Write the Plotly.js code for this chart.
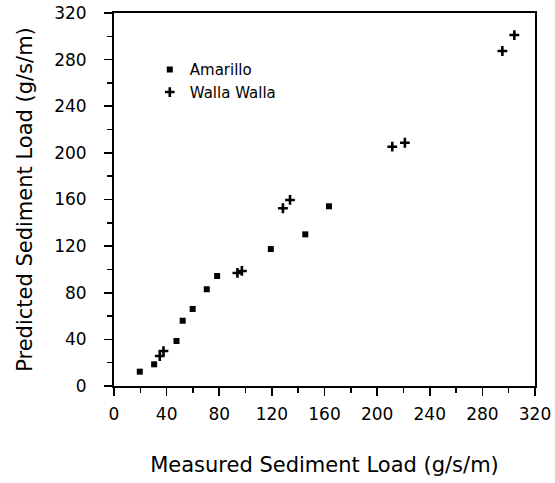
<!DOCTYPE html>
<html><head><meta charset="utf-8">
<script src="https://cdn.plot.ly/plotly-3.0.1.min.js"></script>
<style>html,body{margin:0;padding:0;background:#fff}</style>
</head><body>
<div id="chart" style="width:555px;height:483px"></div>
<script>
const amarilloMeasured = [19.6, 30.5, 47.5, 52.2, 59.8, 70.5, 78.4, 119.2, 145.4, 163.4];
const amarilloPredicted = [12.3, 18.6, 38.6, 56.0, 66.1, 83.0, 94.4, 117.5, 130.1, 154.2];
const wallaMeasured = [34.8, 37.6, 93.8, 97.2, 128.4, 133.8, 211.5, 221.1, 295.2, 304.3];
const wallaPredicted = [25.7, 30.0, 97.0, 98.7, 152.5, 159.6, 205.3, 208.7, 287.4, 301.1];
const tickVals = [0, 40, 80, 120, 160, 200, 240, 280, 320];
const tickText = ["0", "40", "80", "120", "160", "200", "240", "280", "320"];

const FONT = "DejaVu Sans, sans-serif";
const traces = [
  {x: amarilloMeasured, y: amarilloPredicted, name: "Amarillo", type: "scatter", mode: "markers",
   marker: {symbol: "square", size: 6, color: "#000"}},
  {x: wallaMeasured, y: wallaPredicted, name: "Walla Walla", type: "scatter", mode: "markers",
   marker: {symbol: "cross-thin", size: 7, color: "#000", line: {color: "#000", width: 2.6}}}
];
const axisCommon = {
  range: [0, 320], tickvals: tickVals, ticktext: tickText,
  ticks: "outside", ticklen: 8, tickwidth: 1.6, tickcolor: "#000",
  showline: true, linecolor: "#000", linewidth: 2, mirror: true,
  showgrid: false, zeroline: false,
  tickfont: {family: FONT, size: 17, color: "#000"},
  minor: {tickvals: [20, 60, 100, 140, 180, 220, 260, 300], ticks: "outside", ticklen: 5, tickwidth: 1.4, tickcolor: "#000", showgrid: false}
};
const layout = {
  width: 555, height: 483,
  margin: {l: 113.5, r: 20, t: 13, b: 97},
  paper_bgcolor: "#fff", plot_bgcolor: "#fff",
  font: {family: FONT, color: "#000"},
  xaxis: Object.assign({}, axisCommon, {
    ticklabelstandoff: 4,
    title: {text: "Measured Sediment Load (g/s/m)", font: {family: FONT, size: 21, color: "#000"}, standoff: 34}
  }),
  yaxis: Object.assign({}, axisCommon, {
    ticklabelstandoff: 14,
    title: {text: "Predicted Sediment Load (g/s/m)", font: {family: FONT, size: 21, color: "#000"}, standoff: 16}
  }),
  showlegend: true,
  legend: {x: 0.085, y: 0.892, xanchor: "left", yanchor: "top", bgcolor: "rgba(0,0,0,0)",
           font: {family: FONT, size: 15, color: "#000"}, itemwidth: 30, tracegroupgap: 0}
};
Plotly.newPlot("chart", traces, layout, {displayModeBar: false, staticPlot: true});
</script>
</body></html>
